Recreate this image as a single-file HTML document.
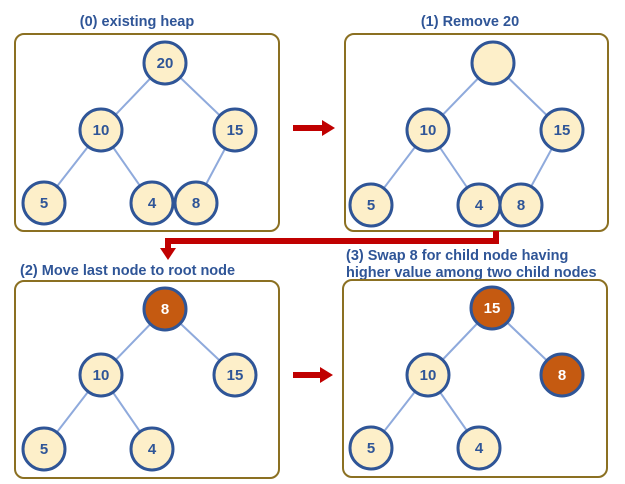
<!DOCTYPE html>
<html><head><style>body{margin:0;background:#fff}svg{display:block}</style></head><body>
<svg width="625" height="484" viewBox="0 0 625 484" xmlns="http://www.w3.org/2000/svg" font-family="Liberation Sans, sans-serif">
<defs>
<g id="n"></g>
</defs>
<g font-weight="bold" font-size="14.5" fill="#2f5597">
<text x="137" y="26" text-anchor="middle">(0) existing heap</text>
<text x="470" y="26" text-anchor="middle">(1) Remove 20</text>
<text x="20" y="275">(2) Move last node to root node</text>
<text x="346" y="260">(3) Swap 8 for child node having</text>
<text x="346" y="277">higher value among two child nodes</text>
</g>
<g fill="none" stroke="#8b7022" stroke-width="2">
<rect x="15" y="34" width="264" height="197" rx="9"/>
<rect x="345" y="34" width="263" height="197" rx="9"/>
<rect x="15" y="281" width="264" height="197" rx="9"/>
<rect x="343" y="280" width="264" height="197" rx="9"/>
</g>
<g stroke="#8faadc" stroke-width="2">
<line x1="165" y1="63" x2="101" y2="130"/><line x1="165" y1="63" x2="235" y2="130"/><line x1="101" y1="130" x2="44" y2="203"/><line x1="101" y1="130" x2="152" y2="203"/><line x1="235" y1="130" x2="196" y2="203"/>
<line x1="493" y1="63" x2="428" y2="130"/><line x1="493" y1="63" x2="562" y2="130"/><line x1="428" y1="130" x2="371" y2="205"/><line x1="428" y1="130" x2="479" y2="205"/><line x1="562" y1="130" x2="521" y2="205"/>
<line x1="165" y1="309" x2="101" y2="375"/><line x1="165" y1="309" x2="235" y2="375"/><line x1="101" y1="375" x2="44" y2="449"/><line x1="101" y1="375" x2="152" y2="449"/>
<line x1="492" y1="308" x2="428" y2="375"/><line x1="492" y1="308" x2="562" y2="375"/><line x1="428" y1="375" x2="371" y2="448"/><line x1="428" y1="375" x2="479" y2="448"/>
</g>
<g stroke="#2f5597" stroke-width="3" fill="#fdefc9">
<circle cx="165" cy="63" r="21"/><circle cx="101" cy="130" r="21"/><circle cx="235" cy="130" r="21"/><circle cx="44" cy="203" r="21"/><circle cx="152" cy="203" r="21"/><circle cx="196" cy="203" r="21"/>
<circle cx="493" cy="63" r="21"/><circle cx="428" cy="130" r="21"/><circle cx="562" cy="130" r="21"/><circle cx="371" cy="205" r="21"/><circle cx="479" cy="205" r="21"/><circle cx="521" cy="205" r="21"/>
<circle cx="165" cy="309" r="21" fill="#c55a11"/><circle cx="101" cy="375" r="21"/><circle cx="235" cy="375" r="21"/><circle cx="44" cy="449" r="21"/><circle cx="152" cy="449" r="21"/>
<circle cx="492" cy="308" r="21" fill="#c55a11"/><circle cx="428" cy="375" r="21"/><circle cx="562" cy="375" r="21" fill="#c55a11"/><circle cx="371" cy="448" r="21"/><circle cx="479" cy="448" r="21"/>
</g>
<g font-size="15" fill="#2f5597" text-anchor="middle" font-weight="bold">
<text x="165" y="68">20</text><text x="101" y="135">10</text><text x="235" y="135">15</text><text x="44" y="208">5</text><text x="152" y="208">4</text><text x="196" y="208">8</text>
<text x="428" y="135">10</text><text x="562" y="135">15</text><text x="371" y="210">5</text><text x="479" y="210">4</text><text x="521" y="210">8</text>
<text x="165" y="314" fill="#fff">8</text><text x="101" y="380">10</text><text x="235" y="380">15</text><text x="44" y="454">5</text><text x="152" y="454">4</text>
<text x="492" y="313" fill="#fff">15</text><text x="428" y="380">10</text><text x="562" y="380" fill="#fff">8</text><text x="371" y="453">5</text><text x="479" y="453">4</text>
</g>
<g fill="#c00000">
<rect x="293" y="125" width="30" height="6"/><polygon points="322,120 335,128 322,136"/>
<rect x="293" y="372" width="28" height="6"/><polygon points="320,367 333,375 320,383"/>
<polygon points="493,231 499,231 499,244 171,244 171,250 165,250 165,238 493,238"/>
<polygon points="160,248 176,248 168,260"/>
</g>
</svg>
</body></html>
